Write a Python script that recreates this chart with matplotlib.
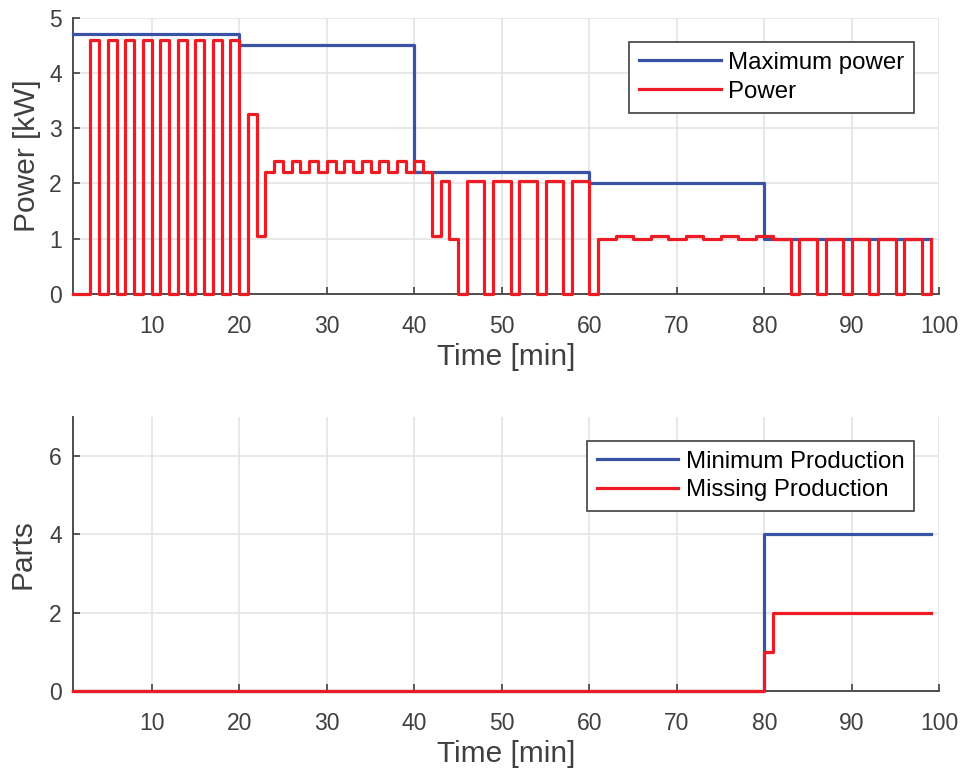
import matplotlib
matplotlib.use('Agg')
import matplotlib.pyplot as plt
import numpy as np

# Data
# power signal, one value per minute (held until next minute), t = 1..99
time_min = np.arange(1, 100)
power = [0, 0, 4.6, 0, 4.6, 0, 4.6, 0, 4.6, 0,
         4.6, 0, 4.6, 0, 4.6, 0, 4.6, 0, 4.6, 0,
         3.25, 1.05, 2.2, 2.4, 2.2, 2.4, 2.2, 2.4, 2.2, 2.4,
         2.2, 2.4, 2.2, 2.4, 2.2, 2.4, 2.2, 2.4, 2.2, 2.4,
         2.2, 1.05, 2.05, 1.0, 0, 2.05, 2.05, 0, 2.05, 2.05,
         0, 2.05, 2.05, 0, 2.05, 2.05, 0, 2.05, 2.05, 0,
         1.0, 1.0, 1.05, 1.05, 1.0, 1.0, 1.05, 1.05, 1.0, 1.0,
         1.05, 1.05, 1.0, 1.0, 1.05, 1.05, 1.0, 1.0, 1.05, 1.05,
         1.0, 1.0, 0, 1, 1, 0, 1, 1, 0, 1,
         1, 0, 1, 1, 0, 1, 1, 0, 1]

max_power_t = [1, 20, 40, 60, 80, 99]
max_power = [4.7, 4.5, 2.2, 2.0, 1.0, 1.0]

parts_t = [1, 80, 81, 99]
min_production = [0, 4, 4, 4]
missing_production = [0, 1, 2, 2]

blue = '#3A53A4'
red = '#ED1C24'
txt = '#404040'

plt.rcParams['font.family'] = ['Liberation Sans', 'DejaVu Sans']
plt.rcParams['axes.edgecolor'] = '#404040'
plt.rcParams['xtick.color'] = '#404040'
plt.rcParams['ytick.color'] = '#404040'
plt.rcParams['xtick.labelcolor'] = txt
plt.rcParams['ytick.labelcolor'] = txt

fig = plt.figure(figsize=(9.66, 7.73), dpi=100)
ax1 = fig.add_axes([0.0755, 0.620, 0.897, 0.357])
ax2 = fig.add_axes([0.0755, 0.106, 0.897, 0.355])


def style(ax):
    for s in ['top', 'right']:
        ax.spines[s].set_visible(False)
    for s in ['left', 'bottom']:
        ax.spines[s].set_linewidth(1.3)
    ax.grid(True, color='#e2e2e2', linewidth=1.1)
    ax.set_axisbelow(True)
    ax.tick_params(direction='in', length=5, width=1.2, labelsize=16.5)
    ax.tick_params(axis='x', pad=15)
    ax.tick_params(axis='y', pad=8)
    ax.set_xlim(1, 100)
    ax.set_xticks(np.arange(10, 101, 10))
    ax.set_xlabel('Time [min]', fontsize=21.5, color=txt, labelpad=4)


def legend(ax):
    leg = ax.legend(loc='upper right', bbox_to_anchor=(0.971, 0.913), fontsize=17.3,
                    fancybox=False, framealpha=1, edgecolor='#404040',
                    handlelength=3.4, handletextpad=0.3, borderpad=0.42,
                    labelspacing=0.28, borderaxespad=0)
    leg.get_frame().set_linewidth(1.2)
    leg.set_zorder(10)


# top: power
ax1.step(max_power_t, max_power, where='post', color=blue, lw=2.3,
         label='Maximum power', clip_on=False, zorder=3)
ax1.step(time_min, power, where='post', color=red, lw=2.3,
         label='Power', clip_on=False, zorder=4)
style(ax1)
ax1.set_ylim(0, 5)
ax1.set_yticks(range(0, 6))
ax1.set_ylabel('Power [kW]', fontsize=21.5, color=txt, labelpad=6)
legend(ax1)

# bottom: parts
ax2.step(parts_t, min_production, where='post', color=blue, lw=2.3,
         label='Minimum Production', clip_on=False, zorder=3)
ax2.step(parts_t, missing_production, where='post', color=red, lw=2.3,
         label='Missing Production', clip_on=False, zorder=4)
style(ax2)
ax2.set_ylim(0, 7)
ax2.set_yticks([0, 2, 4, 6])
ax2.set_ylabel('Parts', fontsize=21.5, color=txt, labelpad=9)
legend(ax2)

fig.savefig('out.png', dpi=100)
